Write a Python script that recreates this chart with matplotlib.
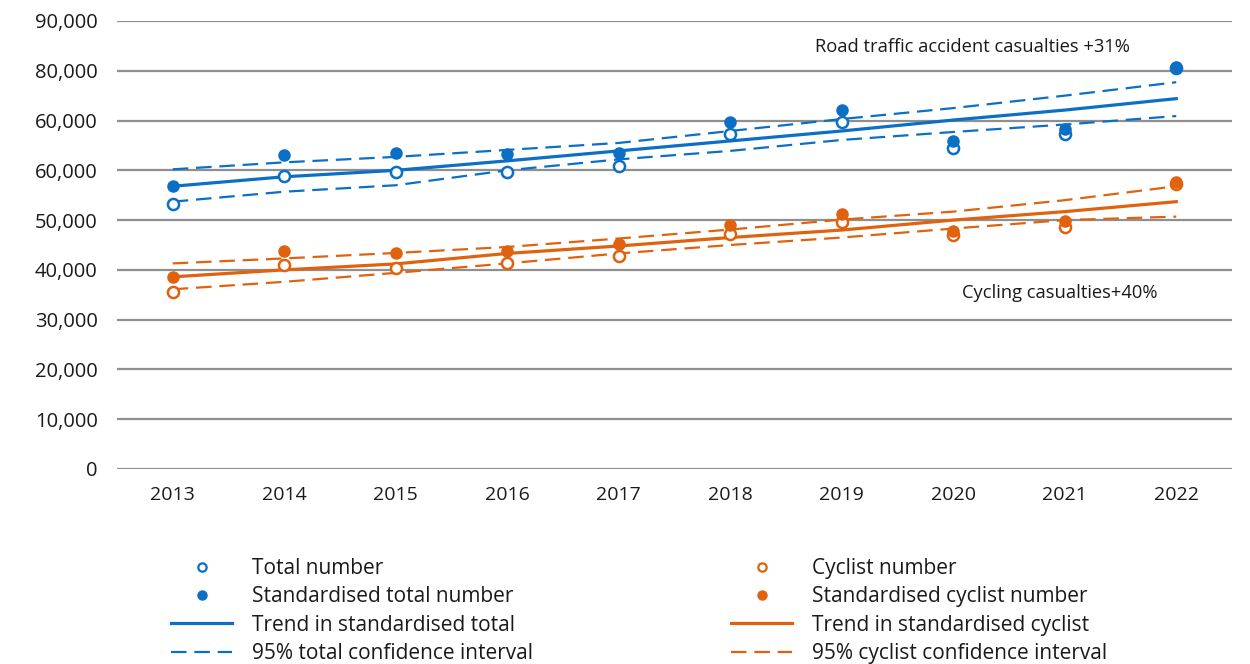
import matplotlib.pyplot as plt
from matplotlib.lines import Line2D

plt.rcParams['font.family'] = ['Open Sans', 'DejaVu Sans']

years = ['2013', '2014', '2015', '2016', '2017', '2018', '2019', '2020', '2021', '2022']

# road traffic accident casualties
total = [53200, 58800, 59700, 59700, 60800, 67300, 69700, 64400, 67300, 80500]
total_std = [56800, 63000, 63500, 63200, 63500, 69700, 72100, 65900, 68300, 80800]
total_trend = [56800, 58700, 60000, 61900, 63900, 65900, 67900, 70100, 72100, 74400]
total_upper = [60200, 61600, 62700, 64100, 65500, 67900, 70300, 72500, 75000, 77700]
total_lower = [53700, 55700, 57000, 60000, 62200, 63900, 66100, 67700, 69200, 70900]

# cycling casualties
cyclist = [35600, 41000, 40400, 41300, 42800, 47200, 49700, 47000, 48700, 57200]
cyclist_std = [38600, 43800, 43300, 43800, 45200, 49000, 51300, 47800, 49900, 57700]
cyclist_trend = [38600, 40000, 41200, 43300, 44800, 46500, 48000, 50000, 51700, 53700]
cyclist_upper = [41300, 42300, 43400, 44600, 46300, 48100, 50100, 51700, 54000, 56800]
cyclist_lower = [36100, 37600, 39400, 41300, 43300, 45000, 46500, 48300, 50000, 50700]

y_ticks = [0, 10000, 20000, 30000, 40000, 50000, 60000, 70000, 80000, 90000]
y_labels = ['0', '10,000', '20,000', '30,000', '40,000', '50,000',
            '60,000', '60,000', '80,000', '90,000']

blue = '#0b6fc6'
orange = '#e0620e'
dash = (0, (7, 3.5))

fig = plt.figure(figsize=(12.5, 6.64), dpi=100)
ax = fig.add_axes([0.0936, 0.2937, 0.892, 0.6747])
x = list(range(len(years)))

for color, obs, std, trend, up, low in [
        (blue, total, total_std, total_trend, total_upper, total_lower),
        (orange, cyclist, cyclist_std, cyclist_trend, cyclist_upper, cyclist_lower)]:
    ax.plot(x, up, color=color, lw=1.6, ls=dash, zorder=3)
    ax.plot(x, low, color=color, lw=1.6, ls=dash, zorder=3)
    ax.plot(x, trend, color=color, lw=2.3, zorder=3)
    ax.plot(x, obs, 'o', mfc='white', mec=color, mew=1.8, ms=8, zorder=4)
    ax.plot(x, std, 'o', color=color, ms=8, zorder=5)

ax.set_xlim(-0.5, len(years) - 0.5)
ax.set_ylim(0, 90000)
ax.set_xticks(x)
ax.set_xticklabels(years, fontsize=14)
ax.set_yticks(y_ticks)
ax.set_yticklabels(y_labels, fontsize=14.5)
ax.tick_params(length=0, pad=14, colors='#1a1a1a')
ax.tick_params(axis='x', pad=12)
ax.grid(axis='y', color='#8f8f8f', lw=1.6)
ax.set_axisbelow(True)
for s in ax.spines.values():
    s.set_visible(False)

ax.text(5.76, 84700, 'Road traffic accident casualties +31%', fontsize=13.2,
        va='center', ha='left', color='#1a1a1a')
ax.text(7.08, 35300, 'Cycling casualties+40%', fontsize=13.2,
        va='center', ha='left', color='#1a1a1a')


def legend_handles(color):
    return [
        Line2D([], [], ls='none', marker='o', mfc='white', mec=color, mew=1.6, ms=6),
        Line2D([], [], ls='none', marker='o', color=color, ms=6.5),
        Line2D([], [], color=color, lw=2.3),
        Line2D([], [], color=color, lw=1.6, ls=dash),
    ]


leg_kw = dict(frameon=False, fontsize=15, handlelength=2.95, handletextpad=0.95,
              labelspacing=0.35, loc='upper left', borderaxespad=0)
leg1 = fig.legend(legend_handles(blue),
                  ['Total number', 'Standardised total number',
                   'Trend in standardised total', '95% total confidence interval'],
                  bbox_to_anchor=(0.130, 0.172), **leg_kw)
leg2 = fig.legend(legend_handles(orange),
                  ['Cyclist number', 'Standardised cyclist number',
                   'Trend in standardised cyclist', '95% cyclist confidence interval'],
                  bbox_to_anchor=(0.578, 0.172), **leg_kw)
for leg in (leg1, leg2):
    for t in leg.get_texts():
        t.set_color('#1a1a1a')

fig.savefig('out.png', dpi=100, facecolor='white')
